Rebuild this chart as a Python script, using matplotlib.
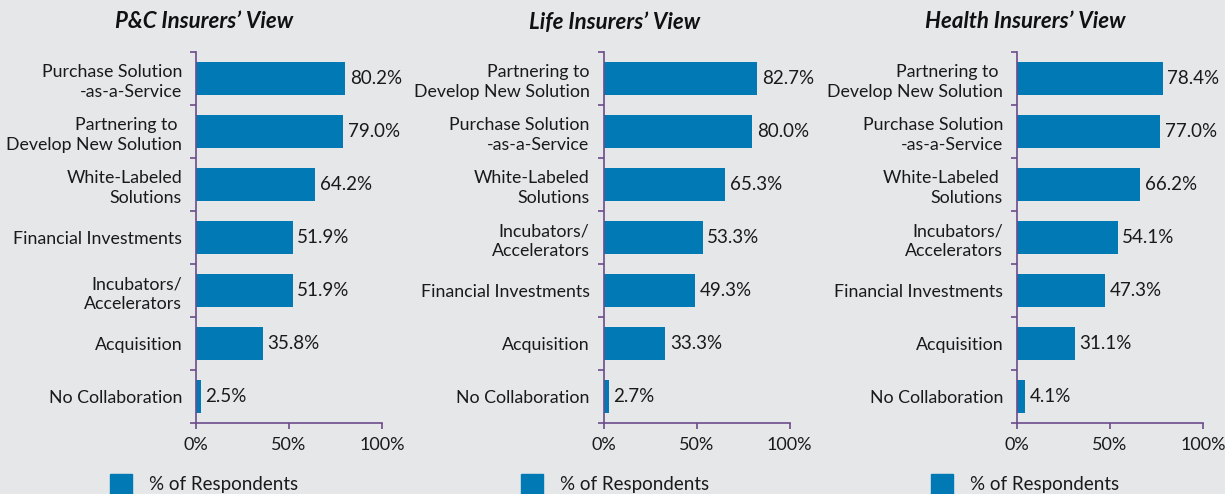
import matplotlib
matplotlib.use("Agg")
import matplotlib.pyplot as plt
from matplotlib.patches import Patch

plt.rcParams["font.family"] = ["Lato", "DejaVu Sans"]

BG = "#e6e7e9"
BAR = "#0079b5"
SPINE = "#6b4c8a"

titles = ["P&C Insurers\u2019 View", "Life Insurers\u2019 View", "Health Insurers\u2019 View"]

pc_labels = ["Purchase Solution\n-as-a-Service", "Partnering to \nDevelop New Solution",
             "White-Labeled\nSolutions", "Financial Investments", "Incubators/\nAccelerators",
             "Acquisition", "No Collaboration"]
pc_values = [80.2, 79.0, 64.2, 51.9, 51.9, 35.8, 2.5]

life_labels = ["Partnering to\nDevelop New Solution", "Purchase Solution\n-as-a-Service",
               "White-Labeled\nSolutions", "Incubators/\nAccelerators", "Financial Investments",
               "Acquisition", "No Collaboration"]
life_values = [82.7, 80.0, 65.3, 53.3, 49.3, 33.3, 2.7]

health_labels = ["Partnering to \nDevelop New Solution", "Purchase Solution\n-as-a-Service",
                 "White-Labeled \nSolutions", "Incubators/\nAccelerators", "Financial Investments",
                 "Acquisition", "No Collaboration"]
health_values = [78.4, 77.0, 66.2, 54.1, 47.3, 31.1, 4.1]

panels = [(pc_labels, pc_values), (life_labels, life_values), (health_labels, health_values)]
lefts = [196, 603.5, 1017]
title_x = [204, 615, 1025]
legend_x = [110, 521, 931]

W, H = 1225, 494
fig = plt.figure(figsize=(W / 100, H / 100), dpi=100, facecolor=BG)

for i, (labels, values) in enumerate(panels):
    ax = fig.add_axes([lefts[i] / W, 71 / H, 186 / W, 371 / H])
    ax.set_facecolor(BG)
    n = len(values)
    y = list(range(n))
    ax.barh(y, values, height=0.64, color=BAR)
    ax.set_ylim(n - 0.5, -0.5)
    ax.set_xlim(0, 100)
    for yy, v in zip(y, values):
        ax.text(v + 2.5, yy, f"{v:.1f}%", va="center", ha="left", fontsize=13.5, color="#1a1a1a")
    # ticks sit on category boundaries, labels in the middle
    ax.set_yticks([k - 0.5 for k in range(n + 1)])
    ax.set_yticklabels([])
    ax.set_yticks(y, minor=True)
    ax.set_yticklabels(labels, minor=True, fontsize=12.8, color="#1a1a1a", linespacing=1.3)
    ax.tick_params(axis="y", which="minor", length=0, pad=10)
    ax.tick_params(axis="y", which="major", length=4, color=SPINE, width=1.2, direction="out")
    ax.set_xticks([0, 50, 100])
    ax.set_xticklabels(["0%", "50%", "100%"], fontsize=13, color="#1a1a1a")
    ax.tick_params(axis="x", length=4, color=SPINE, width=1.2, pad=6)
    for s in ["top", "right"]:
        ax.spines[s].set_visible(False)
    for s in ["left", "bottom"]:
        ax.spines[s].set_color(SPINE)
        ax.spines[s].set_linewidth(1.2)
    fig.text(title_x[i] / W, 1 - 22 / H, titles[i], ha="center", va="center",
             fontsize=16, fontweight="bold", fontstyle="italic", color="#111111")
    fig.legend(handles=[Patch(color=BAR, label="% of Respondents")],
               loc="upper left", bbox_to_anchor=(legend_x[i] / W - 0.008, 1 - 465 / H),
               frameon=False, fontsize=13.5, handlelength=1.2, handleheight=1.2,
               handletextpad=0.9, borderpad=0, labelcolor="#1a1a1a")

fig.savefig("out.png", dpi=100, facecolor=BG)
